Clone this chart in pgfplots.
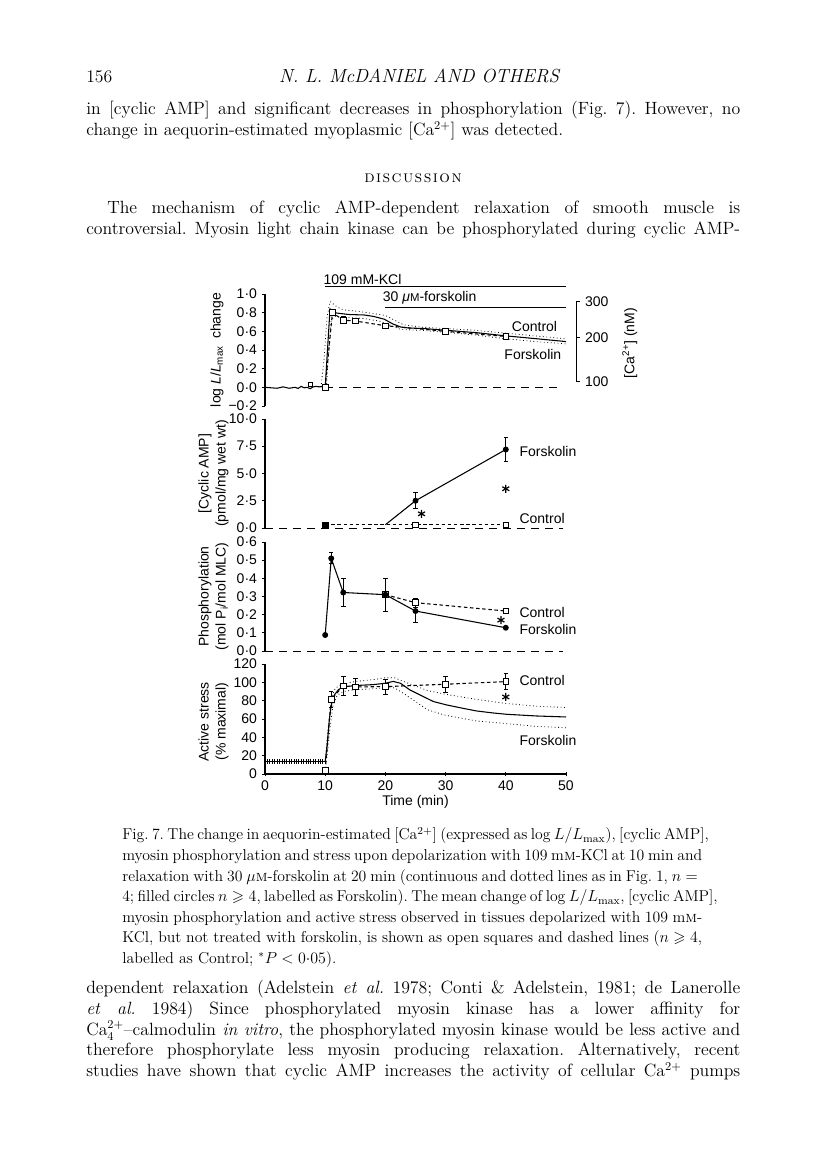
\documentclass[border=0pt]{standalone}
\usepackage{fontspec}
\usepackage{amsmath,amssymb}
\usepackage{pgfplots}
\pgfplotsset{compat=1.18}
\newfontfamily\figfont{Liberation Sans}
\newcommand\bodyfont{\fontsize{13.3}{15.75}\selectfont\frenchspacing}
\newcommand\capfont{\fontsize{11.8}{14}\selectfont\frenchspacing}
\newcommand\jl[2]{\hbox to #1pt{#2}}
\newcommand\ffs{\figfont\fontsize{10.5}{12}\selectfont}
\pgfplotsset{
  panel/.style={scale only axis, width=225.75pt, xmin=0, xmax=50,
    axis y line=left,
    axis line style={-, line width=0.8pt}, tick align=outside,
    major tick length=2.5pt, tick style={line width=0.7pt, black},
    enlargelimits=false, clip=false, anchor=south west,
    ticklabel style={font=\ffs}},
  fors/.style={black, line width=0.8pt, mark=*, mark size=1.8pt,
    error bars/.cd, y dir=both, y explicit,
    error mark options={rotate=90, mark size=1.7pt, line width=0.6pt},
    error bar style={line width=0.6pt, solid}},
  ctrl/.style={black, line width=0.8pt, dash pattern=on 2.6pt off 2pt,
    mark=square*, mark size=2.1pt, mark options={solid, fill=white, line width=0.6pt},
    error bars/.cd, y dir=both, y explicit,
    error mark options={rotate=90, mark size=1.7pt, line width=0.6pt},
    error bar style={line width=0.6pt, solid}},
  dots/.style={black, line width=0.6pt, dotted, no marks},
  base/.style={black, line width=0.7pt, dash pattern=on 6pt off 4.5pt, no marks},
  star/.style={only marks, mark=asterisk, mark size=3pt, black, mark options={line width=0.9pt}},
}
\begin{document}
\begin{tikzpicture}[x=0.75pt,y=0.75pt]
\fill[white] (0,0) rectangle (816,1167);
% ---------- header and body text ----------
\node[anchor=base west,inner sep=0] at (86,1084) {\bodyfont 156};
\node[anchor=base,inner sep=0] at (419,1084) {\fontsize{14.2}{16}\selectfont\itshape N. L. McDANIEL AND OTHERS};
\node[anchor=base west,inner sep=0] at (86,1052) {\bodyfont\jl{490.5}{in [cyclic AMP] and significant decreases in phosphorylation (Fig. 7). However, no}};
\node[anchor=base west,inner sep=0] at (86,1031) {\bodyfont change in aequorin-estimated myoplasmic [Ca$^{2+}$] was detected.};
\node[anchor=base,inner sep=0] at (413,984) {\fontsize{12.5}{13}\selectfont\textsc{d\kern1.1pt i\kern1.1pt s\kern1.1pt c\kern1.1pt u\kern1.1pt s\kern1.1pt s\kern1.1pt i\kern1.1pt o\kern1.1pt n}};
\node[anchor=base west,inner sep=0] at (107,953) {\bodyfont\jl{474.75}{The mechanism of cyclic AMP-dependent relaxation of smooth muscle is}};
\node[anchor=base west,inner sep=0] at (86,932) {\bodyfont\jl{490.5}{controversial. Myosin light chain kinase can be phosphorylated during cyclic AMP-}};
% ---------- caption ----------
\node[anchor=base west,inner sep=0] at (122,327) {\capfont\jl{435}{Fig. 7. The change in aequorin-estimated [Ca$^{2+}$] (expressed as log $L/L_{\mathrm{max}}$), [cyclic AMP],}};
\node[anchor=base west,inner sep=0] at (122,306) {\capfont\jl{435}{myosin phosphorylation and stress upon depolarization with 109 m\textsc{m}-KCl at 10 min and}};
\node[anchor=base west,inner sep=0] at (122,285.5) {\capfont\jl{435}{relaxation with 30 $\mu$\textsc{m}-forskolin at 20 min (continuous and dotted lines as in Fig. 1, $n={}$}};
\node[anchor=base west,inner sep=0] at (122,265) {\capfont\jl{435}{4; filled circles $n\geqslant 4$, labelled as Forskolin). The mean change of log $L/L_{\mathrm{max}}$, [cyclic AMP],}};
\node[anchor=base west,inner sep=0] at (122,244.5) {\capfont\jl{435}{myosin phosphorylation and active stress observed in tissues depolarized with 109 m\textsc{m}-}};
\node[anchor=base west,inner sep=0] at (122,224) {\capfont\jl{435}{KCl, but not treated with forskolin, is shown as open squares and dashed lines ($n\geqslant 4$,}};
\node[anchor=base west,inner sep=0] at (122,203.5) {\capfont labelled as Control; $^{*}P<0{\cdot}05$).};
% ---------- bottom paragraph ----------
\node[anchor=base west,inner sep=0] at (86,173) {\bodyfont\jl{490.5}{dependent relaxation (Adelstein \textit{et al.} 1978; Conti \& Adelstein, 1981; de Lanerolle}};
\node[anchor=base west,inner sep=0] at (86,152) {\bodyfont\jl{490.5}{\textit{et al.} 1984) Since phosphorylated myosin kinase has a lower affinity for}};
\node[anchor=base west,inner sep=0] at (86,131.5) {\bodyfont\jl{490.5}{\smash{Ca$^{2+}_{4}$}--calmodulin \textit{in vitro}, the phosphorylated myosin kinase would be less active and}};
\node[anchor=base west,inner sep=0] at (86,111) {\bodyfont\jl{490.5}{therefore phosphorylate less myosin producing relaxation. Alternatively, recent}};
\node[anchor=base west,inner sep=0] at (86,90) {\bodyfont\jl{490.5}{studies have shown that cyclic AMP increases the activity of cellular Ca$^{2+}$ pumps}};

% ---------- Panel 1: log L/Lmax ----------
\begin{axis}[panel, hide x axis, at={(198.75pt,570.75pt)}, height=84pt, ymin=-0.2, ymax=1.0,
  ytick={-0.2,0,0.2,0.4,0.6,0.8,1.0},
  yticklabels={−0·2,0·0,0·2,0·4,0·6,0·8,1·0}]
\addplot[base] coordinates {(10,0)(49.5,0)};
\addplot[dots] coordinates {(9.3,0)(9.8,0.3)(10.3,0.75)(10.8,0.92)(12,0.86)(13,0.83)(16,0.81)(20,0.77)(21.5,0.72)(23,0.67)(26,0.645)(30,0.63)(35,0.61)(40,0.58)(45,0.55)(50,0.52)};
\addplot[dots] coordinates {(10.2,0)(10.6,0.4)(11,0.72)(11.5,0.76)(13,0.75)(16,0.74)(19,0.71)(21,0.66)(22.5,0.62)(26,0.61)(30,0.59)(35,0.56)(40,0.52)(45,0.49)(50,0.465)};
\addplot[black, line width=0.8pt, no marks] coordinates {(0,0)(1,-0.005)(2,-0.01)(3,0.005)(4,-0.01)(5,0.0)(5.5,-0.012)(6,0.01)(6.5,-0.005)(7,0.0)(7.5,-0.015)(8,0.005)(8.5,0.01)(9,0.005)(9.5,0.01)(10,0.0)(10.8,0.84)(11.5,0.80)(12.6,0.79)(14,0.78)(16.5,0.775)(18,0.76)(19.8,0.73)(21.2,0.68)(22.6,0.645)(24,0.635)(26.4,0.63)(30.3,0.61)(35.2,0.585)(40.2,0.55)(45.2,0.52)(50,0.49)};
\addplot[ctrl] coordinates {(10,0) +- (0,0) (11.2,0.8) +- (0,0) (13,0.72) +- (0,0.035) (15,0.71) +- (0,0) (20,0.66) +- (0,0.015) (30,0.6) +- (0,0) (40,0.545) +- (0,0)};
\addplot[black, only marks, mark=square*, mark size=1.4pt, mark options={fill=white, line width=0.5pt}, error bars/.cd, y dir=both, y explicit, error bar style={line width=0.5pt}] coordinates {(7.5,0.03) +- (0,0.02)};
\node[anchor=east, font=\ffs] at (axis cs:49.3,0.65) {Control};
\node[anchor=east, font=\ffs] at (axis cs:50,0.354) {Forskolin};
\node[rotate=90, font=\ffs] at (axis cs:-7.97,0.4) {log \textit{L}/\textit{L}\textsubscript{max}\enspace change};
% treatment bars
\draw[line width=1.1pt] (axis cs:10,1.078) -- (axis cs:50,1.078);
\draw[line width=1.1pt] (axis cs:20,0.853) -- (axis cs:50,0.853);
\node[anchor=west, font=\ffs, inner sep=0] at (axis cs:9.7,1.16) {109 mM-KCl};
\node[anchor=west, font=\ffs, inner sep=0] at (axis cs:19.55,0.957) {30 \textit{μ}{\fontsize{8.5}{8}\selectfont M}-forskolin};
% right [Ca2+] scale
\draw[line width=0.8pt] (axis cs:52.3,0.915) -- (axis cs:51.8,0.915) -- (axis cs:51.8,0.06) -- (axis cs:52.3,0.06);
\draw[line width=0.8pt] (axis cs:51.8,0.53) -- (axis cs:52.3,0.53);
\node[anchor=west, font=\ffs] at (axis cs:52.4,0.915) {300};
\node[anchor=west, font=\ffs] at (axis cs:52.4,0.53) {200};
\node[anchor=west, font=\ffs] at (axis cs:52.4,0.06) {100};
\node[rotate=90, font=\ffs] at (axis cs:60.6,0.475) {[Ca\textsuperscript{2+}] (nM)};
\end{axis}

% ---------- Panel 2: cyclic AMP ----------
\begin{axis}[panel, hide x axis, at={(198.75pt,479.25pt)}, height=81.75pt, ymin=0, ymax=10,
  ytick={0,2.5,5,7.5,10}, yticklabels={0·0,2·5,5·0,7·5,10·0}]
\addplot[base] coordinates {(0,0)(49.5,0)};
\addplot[ctrl] coordinates {(10,0.3) +- (0,0) (25,0.3) +- (0,0) (40,0.3) +- (0,0)};
\addplot[black, line width=0.8pt, no marks] coordinates {(20,0.3)(25,2.5)};
\addplot[fors] coordinates {(25,2.5) +- (0,0.72) (40,7.2) +- (0,1.1)};
\addplot[black, only marks, mark=square*, mark size=2.2pt] coordinates {(10,0.3)};
\addplot[star] coordinates {(26,1.3)(40,3.6)};
\node[anchor=west, font=\ffs] at (axis cs:41.5,7.0) {Forskolin};
\node[anchor=west, font=\ffs] at (axis cs:41.5,0.89) {Control};
\node[rotate=90, font=\figfont\fontsize{10.5}{12.75}\selectfont, align=center] at (axis cs:-8.55,5) {[Cyclic AMP]\\(pmol/mg wet wt)};
\end{axis}

% ---------- Panel 3: phosphorylation ----------
\begin{axis}[panel, hide x axis, at={(198.75pt,387pt)}, height=81.75pt, ymin=0, ymax=0.6,
  ytick={0,0.1,0.2,0.3,0.4,0.5,0.6}, yticklabels={0·0,0·1,0·2,0·3,0·4,0·5,0·6}]
\addplot[base] coordinates {(0,0)(49.5,0)};
\addplot[ctrl] coordinates {(20,0.31) +- (0,0) (25,0.266) +- (0,0.025) (40,0.22) +- (0,0)};
\addplot[fors] coordinates {(10,0.088) +- (0,0) (11,0.51) +- (0,0.03) (13,0.322) +- (0,0.075) (20,0.31) +- (0,0.09) (25,0.22) +- (0,0.065) (40,0.128) +- (0,0)};
\addplot[star] coordinates {(39.2,0.17)};
\node[anchor=west, font=\ffs] at (axis cs:41.5,0.213) {Control};
\node[anchor=west, font=\ffs] at (axis cs:41.5,0.12) {Forskolin};
\node[rotate=90, font=\figfont\fontsize{10.5}{12.75}\selectfont, align=center] at (axis cs:-8.55,0.3) {Phosphorylation\\(mol P\textsubscript{i}/mol MLC)};
\end{axis}

% ---------- Panel 4: active stress ----------
\begin{axis}[panel, at={(198.75pt,294.75pt)}, height=82.5pt, ymin=0, ymax=120,
  axis x line=bottom, x axis line style={-}, y axis line style={-},
  xtick={0,10,20,30,40,50}, xticklabels={0,10,20,30,40,50},
  ytick={0,20,40,60,80,100,120}, yticklabels={0,20,40,60,80,100,120},
  xlabel={Time (min)}, xlabel style={font=\ffs, yshift=3pt}]
\addplot[black, line width=0.7pt, mark=|, mark size=1.7pt, mark options={line width=0.5pt}] coordinates {(0,13.5)(0.4,13.5)(0.8,13.5)(1.2,13.5)(1.6,13.5)(2,13.5)(2.4,13.5)(2.8,13.5)(3.2,13.5)(3.6,13.5)(4,13.5)(4.4,13.5)(4.8,13.5)(5.2,13.5)(5.6,13.5)(6,13.5)(6.4,13.5)(6.8,13.5)(7.2,13.5)(7.6,13.5)(8,13.5)(8.4,13.5)(8.8,13.5)(9.2,13.5)(9.6,13.5)(10,13.5)};
\addplot[dots] coordinates {(10,13.5)(10.5,50)(11,82)(11.7,94)(13,98)(15,101)(18,103)(20,105)(21.5,105)(23,101)(25,96)(27,91)(30,87)(35,81.5)(40,77)(45,74)(50,72.5)};
\addplot[dots] coordinates {(10.2,13.5)(10.8,50)(11.3,75)(12,86)(13,90)(15,92)(18,93)(20,94)(21.5,94)(23,88)(25,79)(27,70)(30,64)(35,58)(40,55)(45,52)(50,50.5)};
\addplot[black, line width=0.8pt, no marks] coordinates {(10,13.5)(10.3,30)(10.7,60)(11,75)(11.5,86)(12.2,92)(13,95)(15,96.5)(18,97.5)(20,99)(21.3,101)(22.5,99)(24,92)(26.3,84.4)(28,79)(30.2,75.3)(33,71.5)(35.2,68.7)(38,66.5)(40.2,65.1)(45.1,63.3)(50,62.2)};
\addplot[ctrl] coordinates {(10,4) +- (0,3) (11,81.5) +- (0,9) (13,96) +- (0,10) (15,95) +- (0,9) (20,95.3) +- (0,8) (30,97.9) +- (0,9) (40,100.8) +- (0,9)};
\addplot[star] coordinates {(40,84)};
\node[anchor=west, font=\ffs] at (axis cs:41.5,102.5) {Control};
\node[anchor=west, font=\ffs] at (axis cs:41.5,37) {Forskolin};
\node[rotate=90, font=\figfont\fontsize{10.5}{12.75}\selectfont, align=center] at (axis cs:-8.55,57) {Active stress\\(\% maximal)};
\end{axis}
\end{tikzpicture}
\end{document}
